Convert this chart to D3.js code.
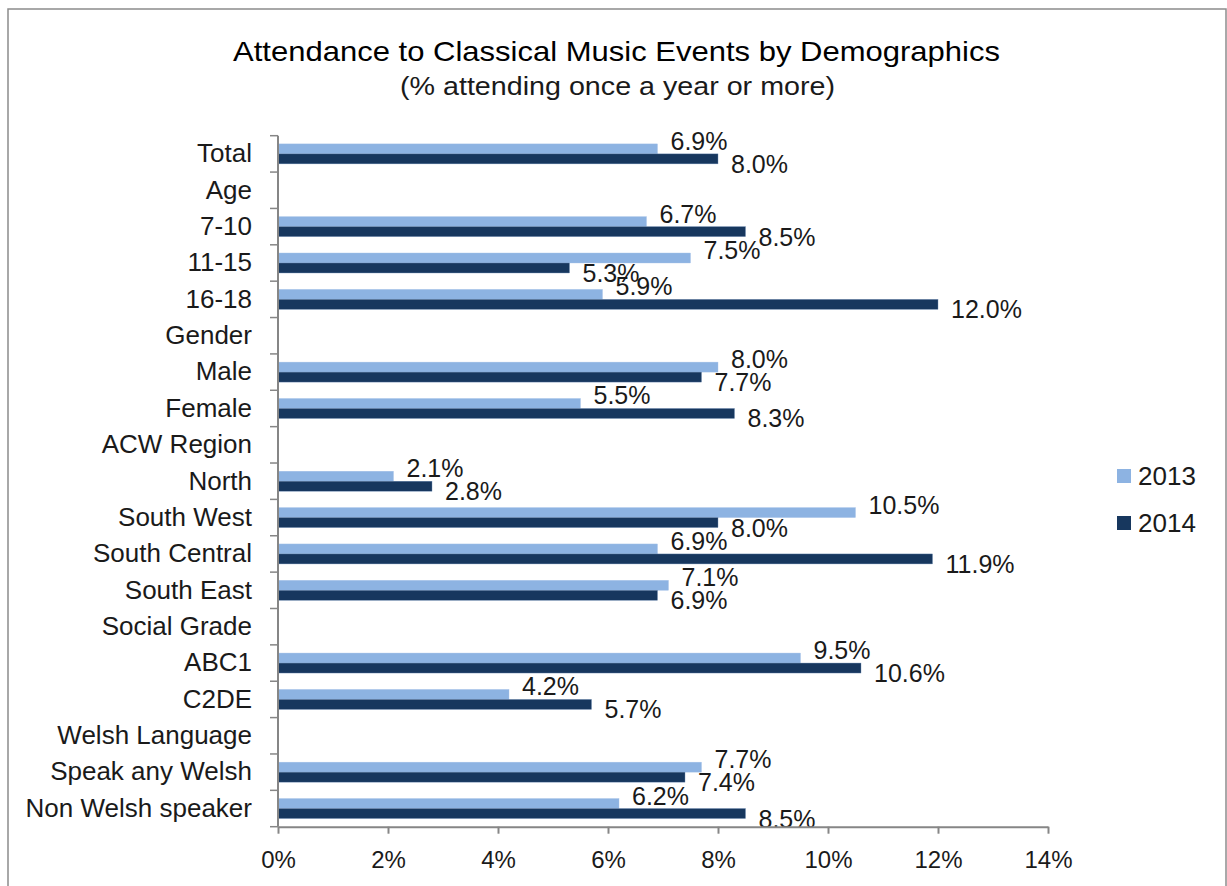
<!DOCTYPE html>
<html>
<head>
<meta charset="utf-8">
<script src="https://cdn.jsdelivr.net/npm/d3@7"></script>
<style>
  html, body { margin: 0; padding: 0; background: #fff; }
  svg { display: block; }
  text { font-family: "Liberation Sans", Arial, sans-serif; fill: #1a1a1a; }
</style>
</head>
<body>
<svg id="chart" width="1227" height="886"></svg>
<script>
const categories = ["Total", "Age", "7-10", "11-15", "16-18", "Gender", "Male", "Female",
  "ACW Region", "North", "South West", "South Central", "South East", "Social Grade",
  "ABC1", "C2DE", "Welsh Language", "Speak any Welsh", "Non Welsh speaker"];
const seriesNames = ["2013", "2014"];
const values2013 = [6.9, null, 6.7, 7.5, 5.9, null, 8.0, 5.5, null, 2.1, 10.5, 6.9, 7.1, null, 9.5, 4.2, null, 7.7, 6.2];
const values2014 = [8.0, null, 8.5, 5.3, 12.0, null, 7.7, 8.3, null, 2.8, 8.0, 11.9, 6.9, null, 10.6, 5.7, null, 7.4, 8.5];
const xTicks = [0, 2, 4, 6, 8, 10, 12, 14];
const title = "Attendance to Classical Music Events by Demographics";
const subtitle = "(% attending once a year or more)";
const colors = { "2013": "#8db3e2", "2014": "#17375e" };

const svg = d3.select("#chart");

// frame
svg.append("rect").attr("x", 8).attr("y", 9).attr("width", 1218).attr("height", 890)
  .attr("fill", "#fff").attr("stroke", "#8c8c8c").attr("stroke-width", 1.5);

// title
svg.append("text").attr("x", 616.5).attr("y", 61).attr("text-anchor", "middle")
  .attr("font-size", 28).attr("textLength", 767).attr("lengthAdjust", "spacingAndGlyphs")
  .style("fill", "#000").text(title);
svg.append("text").attr("x", 617.5).attr("y", 95).attr("text-anchor", "middle")
  .attr("font-size", 26).attr("textLength", 435).attr("lengthAdjust", "spacingAndGlyphs")
  .style("fill", "#1a1a1a").text(subtitle);

const x = d3.scaleLinear().domain([0, 14]).range([278, 1048]);
const y = d3.scaleBand().domain(categories).range([135.7, 826.7]).padding(0);
const ySub = d3.scaleBand().domain(seriesNames).range([0, y.bandwidth()]).paddingInner(0).paddingOuter(0.82);

const rows = categories.map((c, i) => ({ cat: c, v: { "2013": values2013[i], "2014": values2014[i] } }));

const g = svg.append("g");
// bars
seriesNames.forEach(s => {
  g.selectAll(".bar" + s).data(rows.filter(r => r.v[s] != null)).enter().append("rect")
    .attr("x", x(0))
    .attr("y", d => y(d.cat) + ySub(s))
    .attr("width", d => x(d.v[s]) - x(0))
    .attr("height", ySub.bandwidth())
    .attr("fill", colors[s])
    .attr("stroke", s === "2014" ? "#6f8db5" : "#a9c4e8")
    .attr("stroke-width", 0.4);
});

// data labels
seriesNames.forEach(s => {
  g.selectAll(".lab" + s).data(rows.filter(r => r.v[s] != null)).enter().append("text")
    .attr("x", d => x(d.v[s]) + 13)
    .attr("y", d => {
      const bottom = y(d.cat) + ySub(s) + ySub.bandwidth();
      return s === "2013" ? bottom - 4 : bottom + 9;
    })
    .attr("font-size", 25)
    .text(d => d.v[s].toFixed(1) + "%");
});

// y axis
const yAxis = d3.axisLeft(y).tickSize(0).tickPadding(26);
const ya = svg.append("g").attr("transform", `translate(${x(0)},0)`).call(yAxis);
ya.select(".domain").remove();
ya.selectAll("text").attr("font-size", 26).style("fill", "#1a1a1a")
  .style("font-family", '"Liberation Sans", Arial, sans-serif');
// y axis line and boundary ticks
const bounds = categories.map(c => y(c)).concat([y.range()[1]]);
svg.append("line").attr("x1", x(0)).attr("x2", x(0)).attr("y1", y.range()[0]).attr("y2", y.range()[1])
  .attr("stroke", "#868686").attr("stroke-width", 2);
svg.selectAll(".ytick").data(bounds).enter().append("line")
  .attr("x1", x(0) - 8).attr("x2", x(0)).attr("y1", d => d).attr("y2", d => d)
  .attr("stroke", "#868686").attr("stroke-width", 1.5);

// x axis
const xAxis = d3.axisBottom(x).tickValues(xTicks).tickFormat(d => d + "%").tickSize(7).tickPadding(17).tickSizeOuter(0);
const xa = svg.append("g").attr("transform", `translate(0,${y.range()[1]})`).call(xAxis);
xa.select(".domain").attr("stroke", "#868686").attr("stroke-width", 2);
xa.selectAll(".tick line").attr("stroke", "#868686").attr("stroke-width", 2);
xa.selectAll("text").attr("font-size", 24).style("fill", "#1a1a1a")
  .style("font-family", '"Liberation Sans", Arial, sans-serif');

// legend
const lg = svg.append("g").attr("transform", "translate(1117,469)");
seriesNames.forEach((s, i) => {
  lg.append("rect").attr("x", 0).attr("y", i * 47).attr("width", 14).attr("height", 14).attr("fill", colors[s]);
  lg.append("text").attr("x", 21).attr("y", i * 47 + 16).attr("font-size", 26).text(s);
});
</script>
</body>
</html>
